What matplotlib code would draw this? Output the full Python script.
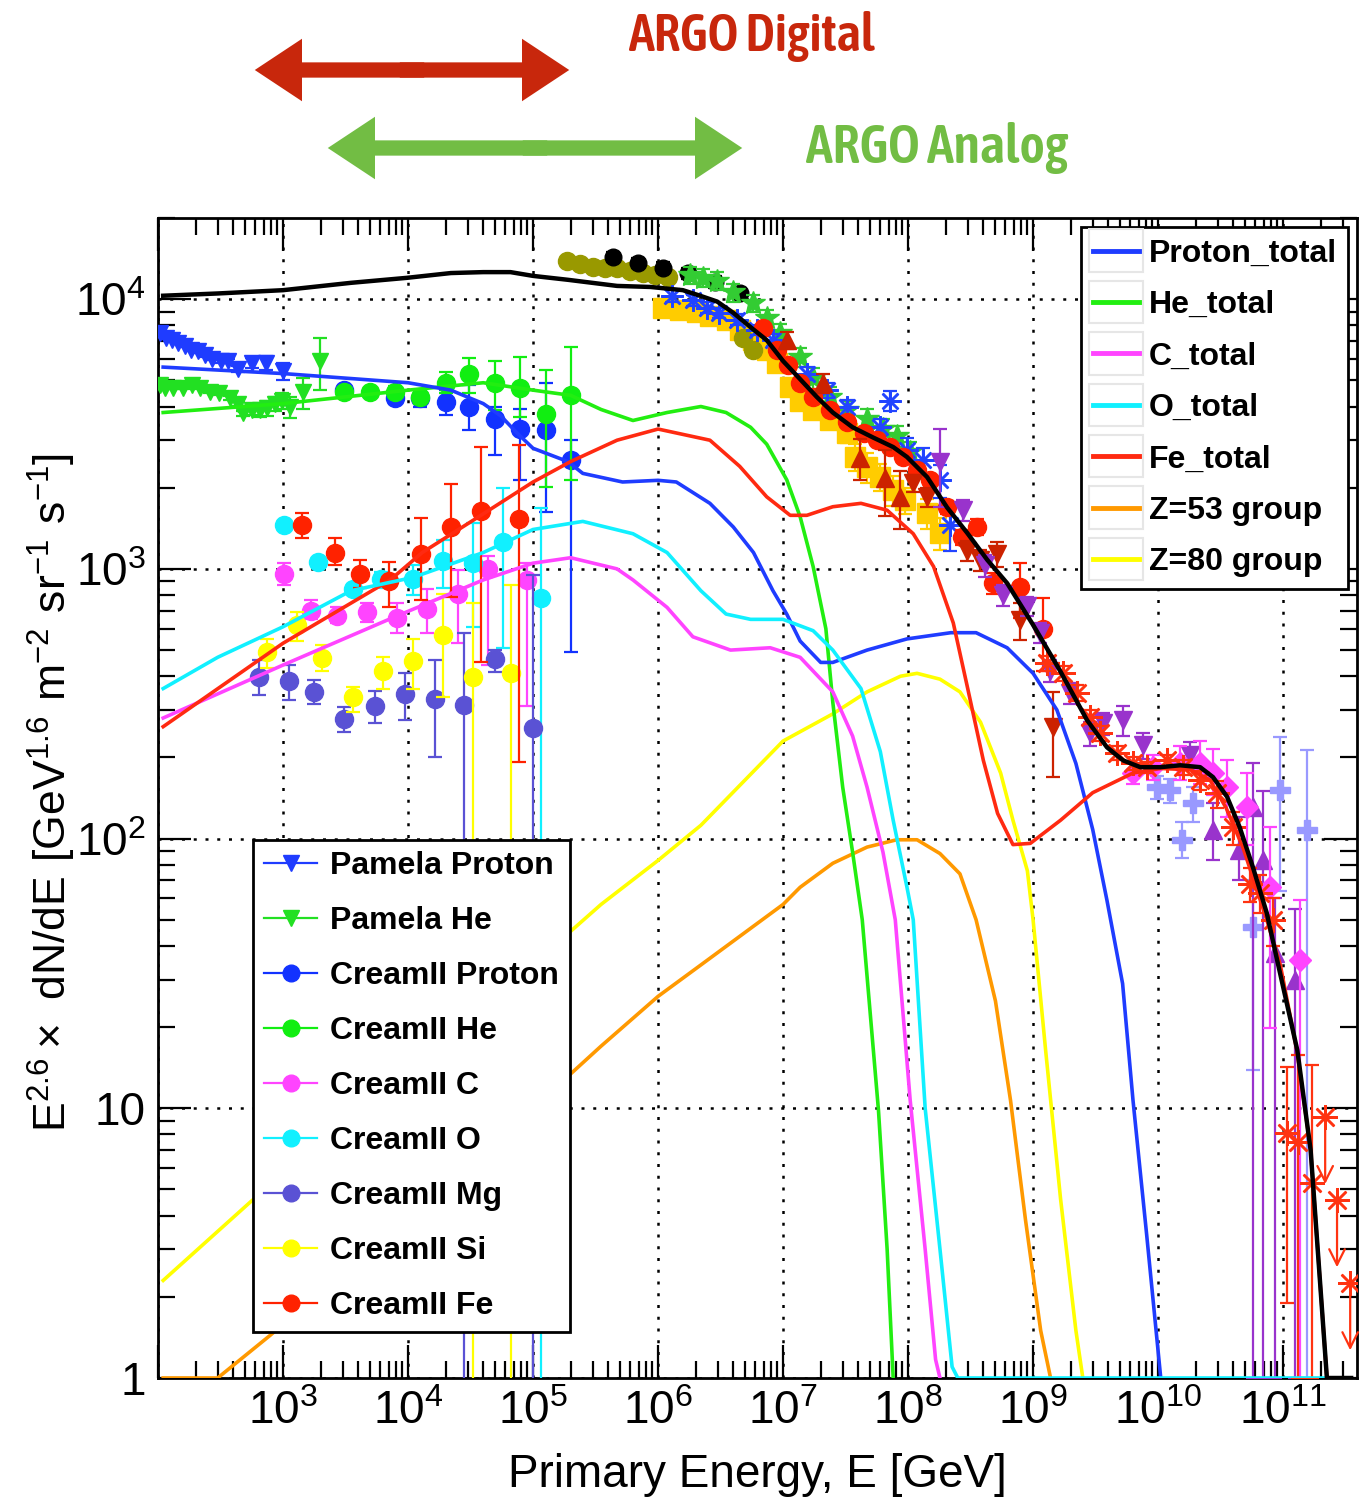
import numpy as np
import matplotlib
matplotlib.use("Agg")
import matplotlib.pyplot as plt
from matplotlib import font_manager as fm
from matplotlib.lines import Line2D
from matplotlib.patches import FancyArrowPatch, Rectangle
from matplotlib.legend_handler import HandlerLine2D
from matplotlib.ticker import FixedLocator, NullFormatter

plt.rcParams['font.family'] = ['Liberation Sans', 'DejaVu Sans']
plt.rcParams['mathtext.default'] = 'regular'

# ---------------- model curves (E in GeV, E^2.6 dN/dE) ----------------
tot_E = [1.1e2, 3e2, 1e3, 3.5e3, 9.8e3, 2.2e4, 4e4, 6.6e4, 1e5, 1.9e5, 4.7e5, 8.7e5, 1.58e6,
         2.17e6, 2.97e6, 4e6, 5.45e6, 7.4e6, 1e7, 1.37e7, 1.87e7, 2.5e7, 3.6e7, 5.25e7, 7.6e7,
         9.8e7, 1.42e8, 2.05e8, 2.97e8, 4.3e8, 6.2e8, 1e9, 1.64e9, 2.7e9, 3.9e9, 5.25e9, 7.2e9,
         1.04e10, 1.5e10, 2.17e10, 2.75e10, 3.56e10, 4.5e10, 5.75e10, 7.4e10, 8.95e10, 1.3e11,
         1.66e11, 2.24e11, 3.5e11]
tot_F = [1.03e4, 1.05e4, 1.08e4, 1.15e4, 1.2e4, 1.25e4, 1.26e4, 1.26e4, 1.22e4, 1.18e4, 1.12e4,
         1.11e4, 1.08e4, 1.03e4, 9.8e3, 8.9e3, 7.9e3, 7.05e3, 5.9e3, 5.05e3, 4.33e3, 3.8e3, 3.35e3,
         3.07e3, 2.83e3, 2.6e3, 2.19e3, 1.69e3, 1.36e3, 1.08e3, 8.85e2, 6.2e2, 4.2e2, 2.75e2,
         2.18e2, 1.95e2, 1.84e2, 1.84e2, 1.87e2, 1.84e2, 1.69e2, 1.43e2, 1.1e2, 78, 53, 35.5,
         16.4, 7.0, 1.0, 1.0]

p_E = [1.1e2, 1e3, 1e4, 2.2e4, 4e4, 5.5e4, 7.4e4, 1e5, 1.9e5, 2.5e5, 5.2e5, 1e6, 1.4e6, 2.6e6,
       4e6, 5.8e6, 8.3e6, 1.07e7, 1.37e7, 2e7, 2.5e7, 4.7e7, 9.8e7, 2.2e8, 3.5e8, 6.2e8, 1e9,
       1.55e9, 2.2e9, 3e9, 3.9e9, 5.2e9, 6.3e9, 8.1e9, 1.05e10]
p_F = [5.6e3, 5.3e3, 4.9e3, 4.6e3, 4.1e3, 3.7e3, 3.2e3, 2.8e3, 2.5e3, 2.26e3, 2.1e3, 2.13e3,
       2.1e3, 1.75e3, 1.43e3, 1.15e3, 8.3e2, 6.8e2, 5.4e2, 4.5e2, 4.5e2, 5.0e2, 5.5e2, 5.8e2,
       5.8e2, 5.1e2, 4.1e2, 3.0e2, 1.9e2, 1.08e2, 59, 29, 10.7, 3.4, 1.0]

he_E = [1.1e2, 1e3, 1e4, 4e4, 1e5, 2e5, 3.5e5, 6.3e5, 1.18e6, 2.2e6, 3.5e6, 5.5e6, 7.4e6,
        1.07e7, 1.37e7, 1.74e7, 2.2e7, 2.5e7, 3e7, 3.6e7, 4.3e7, 5.8e7, 6.8e7, 7.6e7]
he_F = [3.8e3, 4.1e3, 4.6e3, 4.9e3, 4.6e3, 4.4e3, 3.9e3, 3.55e3, 3.8e3, 4.0e3, 3.8e3, 3.35e3,
        2.9e3, 2.14e3, 1.56e3, 1.02e3, 6.0e2, 3.2e2, 1.55e2, 89, 50, 9.8, 3.0, 1.0]

c_E = [1.1e2, 1e3, 7.6e3, 4e4, 1e5, 2e5, 4.7e5, 6.3e5, 1.18e6, 1.9e6, 3.8e6, 7.9e6, 1.37e7,
       2.5e7, 3.6e7, 4.7e7, 6.3e7, 7.9e7, 1.04e8, 1.37e8, 1.66e8, 1.8e8]
c_F = [2.8e2, 4.4e2, 6.6e2, 9.1e2, 1.05e3, 1.1e3, 1.0e3, 9.1e2, 7.2e2, 5.6e2, 5.0e2, 5.1e2,
       4.7e2, 3.5e2, 2.4e2, 1.55e2, 89, 50, 10.7, 3.0, 1.17, 1.0]

o_E = [1.1e2, 3e2, 1e3, 3.5e3, 1.1e4, 4e4, 1e5, 2.5e5, 6.3e5, 1.18e6, 2.2e6, 3.5e6, 5.5e6,
       1e7, 1.74e7, 2.5e7, 4.2e7, 6e7, 7.6e7, 9.8e7, 1.1e8, 1.37e8, 1.8e8, 2.25e8, 2.5e8, 2.24e11]
o_F = [3.6e2, 4.7e2, 6.1e2, 8.3e2, 9.3e2, 1.15e3, 1.4e3, 1.5e3, 1.35e3, 1.15e3, 8.3e2, 6.8e2,
       6.5e2, 6.5e2, 5.9e2, 5.0e2, 3.6e2, 2.1e2, 1.17e2, 66, 50, 10, 3.0, 1.1, 1.0, 1.0]

fe_E = [1.1e2, 1e3, 7.2e3, 1.3e4, 4e4, 1e5, 2e5, 4.7e5, 1e6, 2.6e6, 4.5e6, 7.4e6, 1.14e7,
        1.55e7, 2.5e7, 4.2e7, 6.8e7, 1.1e8, 1.6e8, 2.3e8, 3e8, 4e8, 5.2e8, 6.9e8, 9.5e8, 1.66e9,
        3e9, 6.3e9, 1.05e10, 1.8e10, 2.6e10, 3.5e10, 4.8e10, 7.4e10, 9.5e10, 1.3e11, 1.66e11, 2.24e11]
fe_F = [2.6e2, 5.3e2, 9.1e2, 1.15e3, 1.6e3, 2.1e3, 2.5e3, 3.0e3, 3.3e3, 3.0e3, 2.4e3, 1.85e3,
        1.58e3, 1.58e3, 1.7e3, 1.75e3, 1.65e3, 1.35e3, 1.02e3, 6.3e2, 3.6e2, 1.95e2, 1.24e2, 95,
        96, 1.17e2, 1.48e2, 1.75e2, 1.82e2, 1.8e2, 1.65e2, 1.3e2, 92, 50, 34, 16, 7.0, 1.0]

z53_E = [1.1e2, 3e2, 7.9e2, 1.66e5, 3.5e5, 1e6, 2.2e6, 1e7, 1.37e7, 2.5e7, 4.7e7, 8.1e7, 1.18e8,
         1.8e8, 2.6e8, 3.5e8, 5e8, 6.6e8, 8.7e8, 1.15e9, 1.38e9]
z53_F = [1.0, 1.0, 1.44, 12.4, 17, 26, 34, 57, 66, 81, 93, 99, 99, 88, 74, 50, 25, 10.7, 3.85, 1.5, 1.0]

z80_E = [1.1e2, 5.5e2, 1.66e5, 3.5e5, 1e6, 2.2e6, 1e7, 2.5e7, 4.7e7, 8.7e7, 1.18e8, 1.8e8, 2.6e8,
         3.8e8, 5.5e8, 6.9e8, 9e8, 1e9, 1.26e9, 1.66e9, 2.2e9, 2.5e9]
z80_F = [2.3, 4.5, 42, 57, 83, 1.12e2, 2.3e2, 2.9e2, 3.5e2, 4.0e2, 4.1e2, 3.9e2, 3.5e2, 2.7e2,
         1.75e2, 1.17e2, 76, 50, 16.4, 4.6, 1.5, 1.0]

# ---------------- direct measurements ----------------
pam_p_E = [1.04e2, 1.16e2, 1.29e2, 1.45e2, 1.64e2, 1.84e2, 2.09e2, 2.38e2, 2.7e2, 3.2e2, 3.6e2,
           4.4e2, 5.6e2, 7.3e2, 1.0e3]
pam_p_F = [7.5e3, 7.2e3, 7.05e3, 6.9e3, 6.7e3, 6.5e3, 6.4e3, 6.2e3, 6.0e3, 5.9e3, 5.9e3, 5.5e3,
           5.8e3, 5.8e3, 5.4e3]
pam_p_err = [60, 60, 60, 60, 60, 60, 60, 70, 70, 80, 90, 150, 250, 350, 400]

pam_he_E = [1.04e2, 1.14e2, 1.32e2, 1.58e2, 1.87e2, 2.17e2, 2.6e2, 3.1e2, 3.8e2, 4.4e2, 4.8e2,
            5.6e2, 6.5e2, 7.4e2, 8.6e2, 9.8e2, 1.14e3, 1.45e3, 1.98e3]
pam_he_F = [4.8e3, 4.7e3, 4.68e3, 4.7e3, 4.8e3, 4.68e3, 4.52e3, 4.48e3, 4.3e3, 4.1e3, 3.78e3,
            3.87e3, 3.87e3, 3.94e3, 4.1e3, 4.2e3, 3.98e3, 4.52e3, 5.9e3]
pam_he_err = [40, 40, 40, 40, 40, 40, 40, 50, 60, 70, 80, 150, 200, 250, 250, 300, 350, 600, 1300]

cr_p_E = [3.1e3, 7.9e3, 1.25e4, 2e4, 3.1e4, 5e4, 7.9e4, 1.27e5, 2e5]
cr_p_F = [4.6e3, 4.3e3, 4.3e3, 4.15e3, 3.98e3, 3.6e3, 3.3e3, 3.27e3, 2.53e3]
cr_p_lo = [4.4e3, 4.1e3, 4.0e3, 3.72e3, 3.27e3, 2.64e3, 2.13e3, 1.63e3, 4.9e2]
cr_p_hi = [4.8e3, 4.5e3, 4.6e3, 4.6e3, 4.8e3, 3.98e3, 3.9e3, 4.9e3, 3.0e3]

cr_he_E = [3.1e3, 5e3, 7.9e3, 1.25e4, 2e4, 3.1e4, 5e4, 7.9e4, 1.27e5, 2e5]
cr_he_F = [4.52e3, 4.52e3, 4.52e3, 4.33e3, 4.88e3, 5.27e3, 4.88e3, 4.68e3, 3.75e3, 4.41e3]
cr_he_lo = [4.35e3, 4.35e3, 4.3e3, 4.1e3, 4.48e3, 4.48e3, 3.87e3, 3.65e3, 2.01e3, 2.13e3]
cr_he_hi = [4.7e3, 4.7e3, 4.75e3, 4.55e3, 5.36e3, 6.04e3, 5.89e3, 6.1e3, 5.46e3, 6.64e3]

cr_c_E = [1.02e3, 1.67e3, 2.7e3, 4.7e3, 8.2e3, 1.42e4, 2.5e4, 4.4e4, 9e4]
cr_c_F = [9.6e2, 7.0e2, 6.7e2, 6.9e2, 6.6e2, 7.1e2, 8.1e2, 1.0e3, 9.1e2]
cr_c_lo = [8.7e2, 6.5e2, 6.3e2, 6.35e2, 5.8e2, 5.8e2, 5.3e2, 4.4e2, 3.1e2]
cr_c_hi = [1.05e3, 7.66e2, 7.2e2, 7.5e2, 7.5e2, 8.4e2, 9.9e2, 1.12e3, 1.05e3]

cr_o_E = [1.02e3, 1.9e3, 3.6e3, 6.1e3, 1.1e4, 1.9e4, 3.3e4, 5.8e4, 1.16e5]
cr_o_F = [1.45e3, 1.06e3, 8.4e2, 9.2e2, 9.2e2, 1.07e3, 1.05e3, 1.26e3, 7.8e2]
cr_o_lo = [1.4e3, 1.02e3, 8.0e2, 8.7e2, 8.0e2, 8.5e2, 6.1e2, 5.1e2, 0.5]
cr_o_hi = [1.5e3, 1.1e3, 8.8e2, 9.7e2, 1.03e3, 1.28e3, 1.48e3, 2.0e3, 1.68e3]

cr_mg_E = [6.4e2, 1.12e3, 1.77e3, 3.1e3, 5.4e3, 9.5e3, 1.64e4, 2.8e4, 5e4, 1e5]
cr_mg_F = [3.97e2, 3.84e2, 3.49e2, 2.77e2, 3.1e2, 3.43e2, 3.29e2, 3.13e2, 4.63e2, 2.57e2]
cr_mg_lo = [3.4e2, 3.26e2, 3.15e2, 2.48e2, 2.68e2, 2.75e2, 2.0e2, 0.5, 4.15e2, 0.5]
cr_mg_hi = [4.59e2, 4.4e2, 3.87e2, 3.07e2, 3.52e2, 4.1e2, 4.59e2, 5.8e2, 5.0e2, 9.5e2]

cr_si_E = [7.4e2, 1.3e3, 2.05e3, 3.6e3, 6.3e3, 1.1e4, 1.9e4, 3.3e4, 6.7e4]
cr_si_F = [4.9e2, 6.2e2, 4.67e2, 3.35e2, 4.18e2, 4.55e2, 5.7e2, 3.97e2, 4.1e2]
cr_si_lo = [4.3e2, 5.4e2, 4.2e2, 2.95e2, 3.6e2, 3.6e2, 3.35e2, 0.5, 0.5]
cr_si_hi = [5.5e2, 6.9e2, 5.2e2, 3.65e2, 4.7e2, 5.5e2, 8.1e2, 7.5e2, 8.7e2]

cr_fe_E = [1.42e3, 2.6e3, 4.1e3, 7e3, 1.27e4, 2.2e4, 3.8e4, 7.7e4]
cr_fe_F = [1.45e3, 1.15e3, 9.6e2, 9.0e2, 1.14e3, 1.43e3, 1.64e3, 1.53e3]
cr_fe_lo = [1.3e3, 1.03e3, 8.5e2, 7.2e2, 7.66e2, 7.85e2, 4.5e2, 1.92e2]
cr_fe_hi = [1.61e3, 1.3e3, 1.08e3, 1.06e3, 1.54e3, 2.06e3, 2.83e3, 2.88e3]

# ---------------- air shower data ----------------
olv_E = [1.87e5, 2.38e5, 3.0e5, 3.77e5, 4.7e5, 5.97e5, 7.6e5, 9.5e5, 1.2e6, 4.8e6, 5.75e6]
olv_F = [1.38e4, 1.35e4, 1.32e4, 1.3e4, 1.3e4, 1.27e4, 1.25e4, 1.23e4, 1.21e4, 7.2e3, 6.5e3]

blk_E = [4.4e5, 6.9e5, 1.1e6, 1.74e6, 2.86e6, 4.5e6]
blk_F = [1.43e4, 1.36e4, 1.31e4, 1.25e4, 1.16e4, 1.05e4]
blk_err = [600, 600, 600, 600, 600, 500]

grn_E = [1.8e6, 2.3e6, 2.97e6, 4.0e6, 5.75e6, 7.4e6, 9.5e6, 1.37e7, 1.74e7, 2.38e7, 3.25e7,
         4.7e7, 6.3e7, 8.2e7, 1.04e8]
grn_F = [1.23e4, 1.2e4, 1.17e4, 1.06e4, 9.7e3, 8.5e3, 7.5e3, 6.1e3, 5.1e3, 4.33e3, 3.87e3,
         3.6e3, 3.3e3, 3.1e3, 2.71e3]
grn_err = [900, 900, 900, 800, 700, 600, 600, 500, 450, 380, 330, 320, 300, 280, 250]

gld_E = [1.1e6, 1.5e6, 2.05e6, 2.6e6, 3.56e6, 4.5e6, 5.75e6, 7.4e6, 9e6, 1.14e7, 1.37e7, 1.74e7,
         2.38e7, 3.25e7, 3.77e7, 4.7e7, 5.97e7, 7.6e7, 9.5e7, 1.42e8, 1.8e8]
gld_F = [9.25e3, 9.1e3, 8.95e3, 8.7e3, 8.4e3, 7.7e3, 7.05e3, 6.5e3, 5.8e3, 4.72e3, 4.2e3,
         3.87e3, 3.56e3, 3.18e3, 2.6e3, 2.38e3, 2.19e3, 1.96e3, 1.8e3, 1.61e3, 1.36e3]
gld_err = [0, 0, 0, 0, 0, 0, 0, 0, 0, 0, 0, 0, 0, 250, 300, 300, 250, 250, 200, 200, 180]

bast_E = [1.29e6, 1.9e6, 2.47e6, 3.1e6, 4.3e6, 6.2e6, 8.3e6, 1.56e7, 2.25e7, 3.25e7, 5.97e7,
          7.2e7, 9.8e7, 1.32e8, 1.8e8, 2.17e8]
bast_F = [1.03e4, 9.9e3, 9.3e3, 8.9e3, 8.4e3, 7.7e3, 7.05e3, 5.3e3, 4.6e3, 3.98e3, 3.35e3,
          4.2e3, 2.75e3, 2.53e3, 2.13e3, 1.45e3]
bast_err = [500, 500, 450, 400, 400, 350, 350, 300, 300, 250, 250, 350, 300, 280, 300, 280]

rci_E = [6.9e6, 9e6, 1.1e7, 1.37e7, 1.74e7, 2.38e7, 3.25e7, 4.4e7, 5.65e7, 7.2e7, 9.1e7, 1.18e8,
         1.5e8, 2.05e8, 2.7e8, 3.56e8, 4.8e8, 7.9e8, 1.2e9]
rci_F = [7.8e3, 6.5e3, 5.7e3, 4.9e3, 4.33e3, 3.87e3, 3.5e3, 3.18e3, 3.0e3, 2.83e3, 2.6e3, 2.32e3,
         2.13e3, 1.69e3, 1.31e3, 1.43e3, 8.85e2, 8.55e2, 6.0e2]
rci_err = [300, 250, 220, 200, 180, 160, 150, 140, 130, 120, 110, 100, 100, 90, 80, 100, 80, 200, 180]

dru_E = [1.08e7, 2.1e7, 4.1e7, 6.5e7, 8.6e7]
dru_F = [7.05e3, 4.9e3, 2.58e3, 2.17e3, 1.85e3]
dru_err = [500, 400, 450, 600, 450]

drd_E = [1.1e8, 1.42e8, 2.97e8, 3.77e8, 5.15e8, 7.9e8, 1.45e9]
drd_F = [2.08e3, 1.85e3, 1.17e3, 1.08e3, 1.14e3, 6.45e2, 2.59e2]
drd_err = [150, 150, 100, 100, 120, 100, 90]

pud_E = [1.8e8, 2.75e8, 4.1e8, 5.75e8, 8.95e8, 1.14e9, 1.37e9, 1.98e9, 2.86e9, 3.63e9, 5.25e9,
         7.6e9, 1.8e10]
pud_F = [2.49e3, 1.65e3, 1.03e3, 8.0e2, 7.3e2, 5.8e2, 4.2e2, 3.46e2, 2.46e2, 2.68e2, 2.75e2,
         2.22e2, 2.04e2]
pud_err = [800, 150, 100, 70, 60, 50, 40, 30, 25, 25, 35, 25, 25]

rast_E = [1.29e9, 1.74e9, 2.25e9, 2.86e9, 3.44e9, 4.7e9, 6.3e9, 8.2e9, 1.18e10, 1.58e10, 2.17e10,
          2.97e10, 3.98e10, 5.45e10, 6.5e10, 8.3e10, 1.08e11, 1.32e11, 1.7e11]
rast_F = [4.47e2, 4.1e2, 3.46e2, 2.82e2, 2.46e2, 2.07e2, 1.9e2, 1.84e2, 1.95e2, 1.84e2, 1.65e2,
          1.47e2, 1.1e2, 68, 63, 50, 8.1, 7.5, 5.3]
rast_lo = [4.2e2, 3.85e2, 3.25e2, 2.65e2, 2.3e2, 1.95e2, 1.8e2, 1.75e2, 1.85e2, 1.72e2, 1.52e2,
           1.3e2, 95, 58, 53, 40, 1.9, 1.0, 1.0]
rast_hi = [4.75e2, 4.35e2, 3.7e2, 3.0e2, 2.62e2, 2.2e2, 2.0e2, 1.93e2, 2.05e2, 1.96e2, 1.78e2,
           1.64e2, 1.25e2, 78, 73, 60, 14.2, 15.7, 14.5]
rul_E = [2.17e11, 2.7e11, 3.44e11]
rul_F = [9.3, 4.57, 2.25]

mdi_E = [6.3e9, 9.1e9, 1.5e10, 2.17e10, 2.75e10, 3.56e10, 5.15e10, 7.9e10, 1.37e11]
mdi_F = [1.75e2, 1.84e2, 1.9e2, 1.9e2, 1.75e2, 1.55e2, 1.31e2, 66, 35.5]
mdi_lo = [1.6e2, 1.65e2, 1.65e2, 1.6e2, 1.45e2, 1.2e2, 95, 19.8, 1.0]
mdi_hi = [1.9e2, 2.05e2, 2.2e2, 2.3e2, 2.15e2, 1.95e2, 1.75e2, 1.1e2, 59]

pwk_E = [9.8e9, 1.25e10, 1.56e10, 1.9e10, 5.75e10, 9.5e10, 1.56e11]
pwk_F = [1.55e2, 1.51e2, 99, 1.35e2, 47, 1.51e2, 1.08e2]
pwk_lo = [1.4e2, 1.35e2, 85, 1.15e2, 13.9, 64, 1.0]
pwk_hi = [1.7e2, 1.67e2, 1.15e2, 1.55e2, 70, 2.38e2, 2.13e2]

pup_E = [2.75e10, 4.4e10, 5.75e10, 6.9e10, 8.6e10, 1.25e11]
pup_F = [1.08e2, 91, 1.31e2, 83, 37.6, 30]
pup_lo = [83, 70, 1.0, 1.0, 1.0, 1.0]
pup_hi = [1.35e2, 1.2e2, 1.9e2, 1.5e2, 60, 55]

# ---------------- figure ----------------
fig = plt.figure(figsize=(13.72, 14.98), dpi=100)
ax = fig.add_axes([158 / 1372, 120 / 1498, 1199 / 1372, 1160 / 1498])
ax.set_xscale('log')
ax.set_yscale('log')
ax.set_xlim(1e2, 3.9e11)
ax.set_ylim(1, 2e4)


def eb(E, F, lo=None, hi=None, err=None, color='k', marker='o', ms=12, mew=1.0):
    E = np.array(E)
    F = np.array(F)
    if lo is not None:
        yerr = [F - np.array(lo), np.array(hi) - F]
    elif err is not None:
        yerr = np.array(err)
    else:
        yerr = None
    if yerr is not None:
        ax.errorbar(E, F, yerr=yerr, fmt='none', ecolor=color, elinewidth=1.6,
                    capsize=5, capthick=1.6, zorder=3)
    ax.plot(E, F, linestyle='none', marker=marker, ms=ms, color=color,
            mfc=color, mec=color, mew=mew, zorder=3)


# direct measurements
eb(pam_p_E, pam_p_F, err=pam_p_err, color='#1f3cff', marker='v', ms=12)
eb(pam_he_E, pam_he_F, err=pam_he_err, color='#22e022', marker='v', ms=12)
eb(cr_p_E, cr_p_F, cr_p_lo, cr_p_hi, color='#1232ff', ms=13)
eb(cr_he_E, cr_he_F, cr_he_lo, cr_he_hi, color='#11ee11', ms=13)
eb(cr_c_E, cr_c_F, cr_c_lo, cr_c_hi, color='#ff44ff', ms=13)
eb(cr_o_E, cr_o_F, cr_o_lo, cr_o_hi, color='#11f0ff', ms=13)
eb(cr_mg_E, cr_mg_F, cr_mg_lo, cr_mg_hi, color='#5a52d4', ms=13)
eb(cr_si_E, cr_si_F, cr_si_lo, cr_si_hi, color='#ffff00', ms=13)
eb(cr_fe_E, cr_fe_F, cr_fe_lo, cr_fe_hi, color='#ff2200', ms=13)

# air shower data
eb(gld_E, gld_F, err=gld_err, color='#ffcc00', marker='s', ms=14)
eb(olv_E, olv_F, color='#999900', ms=13)
eb(blk_E, blk_F, err=blk_err, color='black', ms=12)
eb(grn_E, grn_F, err=grn_err, color='#33cc33', marker='*', ms=18)
eb(bast_E, bast_F, err=bast_err, color='#2244ff', marker=(8, 2, 0), ms=16, mew=1.8)
eb(rci_E, rci_F, err=rci_err, color='#ff2200', ms=13)
eb(dru_E, dru_F, err=dru_err, color='#cc2200', marker='^', ms=13)
eb(drd_E, drd_F, err=drd_err, color='#cc2200', marker='v', ms=13)
eb(pud_E, pud_F, err=pud_err, color='#9933cc', marker='v', ms=13)
eb(pwk_E, pwk_F, pwk_lo, pwk_hi, color='#9999ff', marker='P', ms=14)
eb(pup_E, pup_F, pup_lo, pup_hi, color='#9933cc', marker='^', ms=13)
eb(mdi_E, mdi_F, mdi_lo, mdi_hi, color='#ff44ff', marker='D', ms=11)
eb(rast_E, rast_F, rast_lo, rast_hi, color='#ff3311', marker=(8, 2, 0), ms=18, mew=1.8)
ax.plot(rul_E, rul_F, linestyle='none', marker=(8, 2, 0), ms=18, mew=1.8, color='#ff3311', zorder=3)
for e, f in zip(rul_E, rul_F):
    ax.annotate('', xy=(e, f * 0.55), xytext=(e, f), zorder=3,
                arrowprops=dict(arrowstyle='->', color='#ff3311', lw=1.6, mutation_scale=28))

# model curves
lw = 2.6
ax.plot(z53_E, z53_F, color='#ff9900', lw=lw, zorder=4)
ax.plot(z80_E, z80_F, color='#ffff00', lw=lw, zorder=4)
ax.plot(he_E, he_F, color='#22ee11', lw=lw, zorder=4)
ax.plot(c_E, c_F, color='#ff44ff', lw=lw, zorder=4)
ax.plot(p_E, p_F, color='#1f3cff', lw=lw, zorder=4)
ax.plot(fe_E, fe_F, color='#ff2a11', lw=lw, zorder=4)
ax.plot(o_E, o_F, color='#11f0ff', lw=lw, zorder=4)
ax.plot(tot_E, tot_F, color='black', lw=3.2, zorder=5)

# axes styling (ROOT-like)
ax.xaxis.set_major_locator(FixedLocator([10.0 ** k for k in range(2, 12)]))
ax.set_xticklabels([''] + [r'$10^{%d}$' % k for k in range(3, 12)])
ax.xaxis.set_minor_locator(FixedLocator([m * 10.0 ** k for k in range(2, 12) for m in range(2, 10)]))
ax.xaxis.set_minor_formatter(NullFormatter())
ax.yaxis.set_major_locator(FixedLocator([1, 10, 100, 1000, 10000]))
ax.set_yticklabels(['1', '10', r'$10^{2}$', r'$10^{3}$', r'$10^{4}$'])
ax.yaxis.set_minor_locator(FixedLocator([m * 10.0 ** k for k in range(0, 5) for m in range(2, 10)]))
ax.yaxis.set_minor_formatter(NullFormatter())
ax.tick_params(which='both', direction='in', top=True, right=True, width=1.6, colors='black')
ax.tick_params(which='major', length=24, labelsize=33, pad=9)
ax.tick_params(which='minor', length=12)
ax.grid(True, which='major', color='black', linestyle=(0, (1.2, 3.5)), lw=1.8)
for s in ax.spines.values():
    s.set_linewidth(2.0)

fig.text(757 / 1372, 1 - 1487 / 1498, 'Primary Energy, E [GeV]', fontsize=33, ha='center', va='baseline')
fig.text(52 / 1372, 1 - 792 / 1498,
         r'$E^{2.6}\times\ dN/dE\ [GeV^{1.6}\ m^{-2}\ sr^{-1}\ s^{-1}]$',
         fontsize=32, rotation=90, ha='center', va='center')


# legends
class BoxedLine(HandlerLine2D):
    # ROOT draws a faint box round each line sample
    def create_artists(self, legend, orig_handle, xdescent, ydescent, width, height, fontsize, trans):
        arts = super().create_artists(legend, orig_handle, xdescent, ydescent, width, height,
                                      fontsize, trans)
        box = Rectangle((-xdescent - 3, -ydescent - 0.45 * height), width + 6, height * 1.9,
                        fill=False, edgecolor='#e6e6e6', lw=1.5, transform=trans)
        return [box] + list(arts)


comp_names = ['Proton_total', 'He_total', 'C_total', 'O_total', 'Fe_total', 'Z=53 group', 'Z=80 group']
comp_colors = ['#1f3cff', '#22ee11', '#ff44ff', '#11f0ff', '#ff2a11', '#ff9900', '#ffff00']
h1 = [Line2D([], [], color=c, lw=3.5) for c in comp_colors]
leg1 = ax.legend(h1, comp_names, loc='upper left', bbox_to_anchor=(0.770, 0.992),
                 prop={'weight': 'bold', 'size': 23}, frameon=True, fancybox=False,
                 edgecolor='black', framealpha=1, borderpad=0.36, labelspacing=0.67,
                 handlelength=1.44, handletextpad=0.31, borderaxespad=0,
                 handler_map={Line2D: BoxedLine()})
leg1.get_frame().set_linewidth(2.0)
leg1.set_zorder(10)
ax.add_artist(leg1)

data_names = ['Pamela Proton', 'Pamela He', 'CreamII Proton', 'CreamII He', 'CreamII C',
              'CreamII O', 'CreamII Mg', 'CreamII Si', 'CreamII Fe']
data_colors = ['#1f3cff', '#22e022', '#1232ff', '#11ee11', '#ff44ff', '#11f0ff', '#5a52d4',
               '#ffff00', '#ff2200']
data_markers = ['v', 'v', 'o', 'o', 'o', 'o', 'o', 'o', 'o']
h2 = [Line2D([], [], color=c, marker=m, ms=12, lw=1.6) for c, m in zip(data_colors, data_markers)]
leg2 = ax.legend(h2, data_names, loc='upper left', bbox_to_anchor=(0.0792, 0.4638),
                 prop={'weight': 'bold', 'size': 23}, frameon=True, fancybox=False,
                 edgecolor='black', framealpha=1, borderpad=0.36, labelspacing=0.78,
                 handlelength=1.66, handletextpad=0.38, borderaxespad=0)
leg2.get_frame().set_linewidth(2.0)
leg2.set_zorder(10)


# ARGO range annotations
def px(x, y):
    return (x / 1372, 1 - y / 1498)


for (x0, x1, y, col) in [(252, 572, 70, '#c8270c'), (325, 745, 148, '#72bd44')]:
    xm = (x0 + x1) / 2
    for xs, xe in ((xm + 15, x0), (xm - 15, x1)):
        fig.add_artist(FancyArrowPatch(px(xs, y), px(xe, y), transform=fig.transFigure,
                                       arrowstyle='simple,head_length=3.4,head_width=4.5,tail_width=1.1',
                                       mutation_scale=10, color=col, lw=0))


def narrow_font():
    best = None
    for f in fm.fontManager.ttflist:
        nm = f.name.lower()
        st = f.stretch if isinstance(f.stretch, int) else fm.stretch_dict.get(f.stretch, 500)
        if not ('narrow' in nm or 'condensed' in nm or st < 500) or f.style != 'normal':
            continue
        w = f.weight if isinstance(f.weight, int) else fm.weight_dict.get(f.weight, 400)
        score = abs(w - 600) + abs(st - 200)
        if best is None or score < best[0]:
            best = (score, f.fname)
    if best is None:
        return fm.FontProperties(family='Liberation Sans', weight='bold')
    return fm.FontProperties(fname=best[1])


argo_font = narrow_font()
t1 = fig.text(628 / 1372, 1 - 37 / 1498, 'ARGO Digital', color='#c8270c', fontproperties=argo_font,
              ha='left', va='center')
t2 = fig.text(806 / 1372, 1 - 148 / 1498, 'ARGO Analog', color='#72bd44', fontproperties=argo_font,
              ha='left', va='center')
t1.set_fontsize(38)
t2.set_fontsize(38)
fig.canvas.draw()
for t, target in ((t1, 247), (t2, 262)):
    w = t.get_window_extent().width
    t.set_fontsize(min(38 * target / w, 40))

fig.savefig('out.png', dpi=100)
